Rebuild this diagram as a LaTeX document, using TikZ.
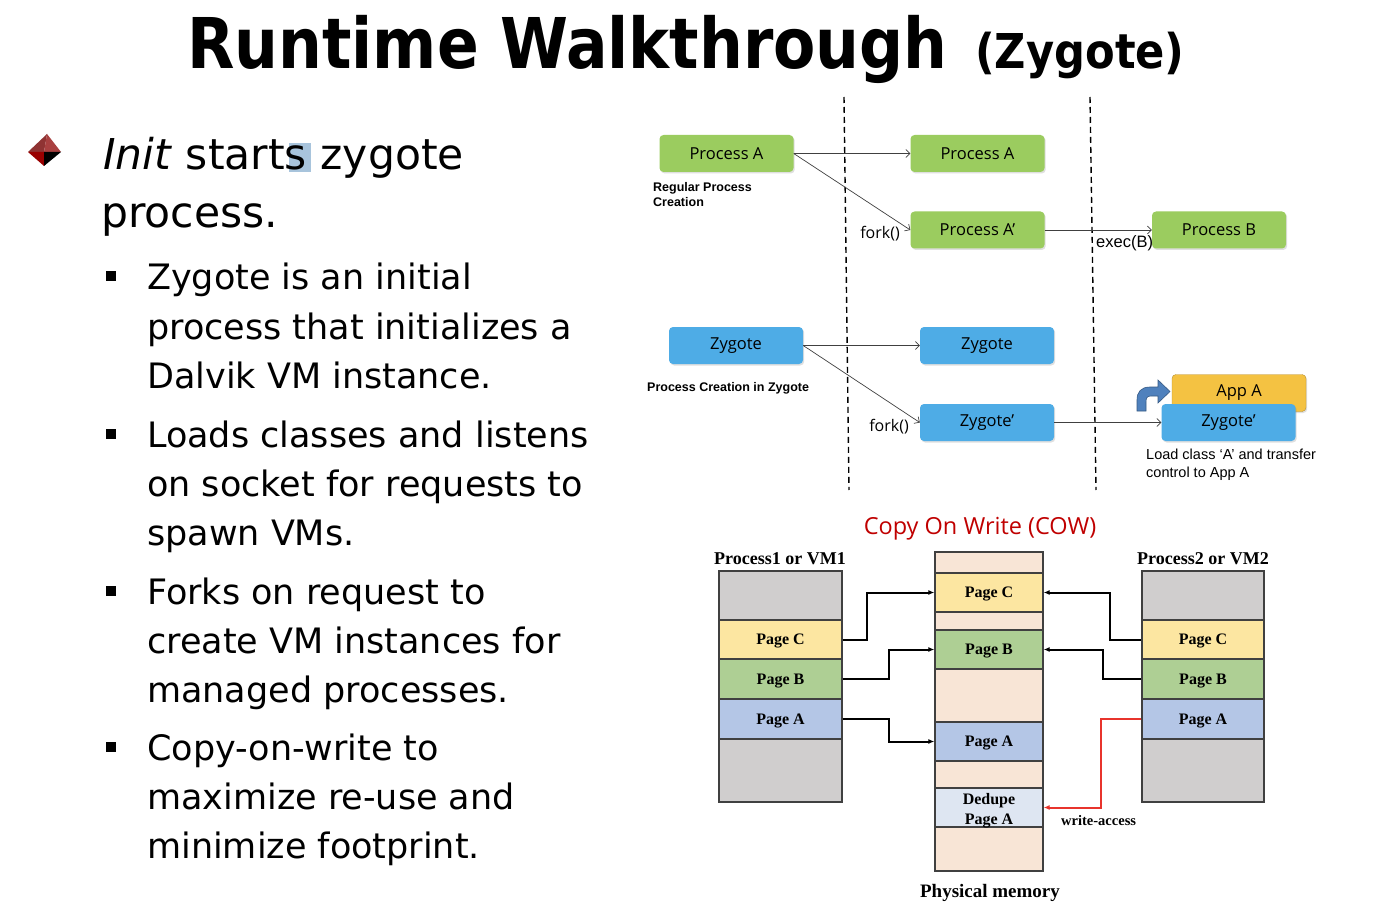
\documentclass[tikz,border=0pt]{standalone}
\usepackage{graphicx}
\usepackage{fontspec}
\setmainfont{DejaVu Sans}
\newfontfamily\boxfont{Open Sans}
\newfontfamily\arialfont{Liberation Sans}
\newfontfamily\timesfont{Liberation Serif}
\usetikzlibrary{arrows.meta,shadows}

\definecolor{procgreen}{RGB}{155,204,95}
\definecolor{zygblue}{RGB}{78,172,230}
\definecolor{appyellow}{RGB}{244,194,66}
\definecolor{pgray}{RGB}{208,206,206}
\definecolor{pyellow}{RGB}{252,230,161}
\definecolor{pgreen}{RGB}{174,207,148}
\definecolor{pblue}{RGB}{180,198,230}
\definecolor{ppeach}{RGB}{248,229,214}
\definecolor{pdedupe}{RGB}{222,230,242}
\definecolor{cowred}{RGB}{192,0,0}
\definecolor{writered}{RGB}{232,52,44}
\definecolor{bendblue}{RGB}{79,129,189}
\definecolor{segline}{RGB}{64,64,64}
\definecolor{markblue}{RGB}{168,196,220}

\tikzset{
  procbox/.style={rounded corners=4pt, minimum width=134pt, minimum height=37pt, inner sep=0pt,
    font=\boxfont\fontsize{16.5}{18}\selectfont,
    drop shadow={opacity=0.25, shadow xshift=1.2pt, shadow yshift=-1.5pt}},
  greenproc/.style={procbox, fill=procgreen},
  blueproc/.style={procbox, fill=zygblue},
  appproc/.style={procbox, fill=appyellow, draw=appyellow!75!black, line width=0.4pt},
  flow/.style={draw=black!75, line width=0.7pt, -{Straight Barb[length=4pt,width=8pt]}},
  divider/.style={line width=1.4pt, dash pattern=on 6pt off 4pt},
  seg/.style={draw=segline, line width=1.3pt, inner sep=0pt, text height=10.7pt, text depth=0pt,
    font=\timesfont\bfseries\fontsize{16}{18}\selectfont},
  pagelink/.style={draw=black, line width=2pt, -{Latex[length=6pt,width=5pt]}},
  bodytext/.style={anchor=base west, inner sep=0pt, font=\fontsize{35}{42}\selectfont},
  smalllabel/.style={anchor=base west, inner sep=0pt, font=\arialfont\bfseries\fontsize{12.5}{15}\selectfont},
}

\begin{document}
\begin{tikzpicture}[x=1pt,y=-1pt]
\fill[white] (0,0) rectangle (1374,904);
\useasboundingbox (0,0) rectangle (1374,904);

% title
\node[anchor=base west, inner sep=0pt, font=\bfseries\fontsize{70}{70}\selectfont] (title) at (187,69) {\scalebox{0.88}[1]{Runtime Walkthrough}};
\node[anchor=base west, inner sep=0pt, font=\bfseries\fontsize{48}{48}\selectfont] (subtitle) at (975,69) {\scalebox{0.9}[1]{(Zygote)}};

% main bullet
\fill[red!45!black!80] (28,152) -- (47,134) -- (44,152) -- cycle;
\fill[red!55!black!75] (47,134) -- (61,152) -- (44,152) -- cycle;
\fill[red!60!black] (28,152) -- (44,152) -- (44,166) -- cycle;
\fill[black] (44,152) -- (61,152) -- (44,166) -- cycle;
\fill[markblue] (289,143) rectangle (311,172);
\node[anchor=base west, inner sep=0pt, font=\fontsize{42.5}{50}\selectfont] (init) at (103,170) {\textit{Init} starts zygote};
\node[anchor=base west, inner sep=0pt, font=\fontsize{42.5}{50}\selectfont] (init2) at (101,228) {process.};

% sub bullets
\foreach \yy in {276.5,433.5,590.5,746.5}{
    \fill (105.5,\yy-5) rectangle ++(10,10);
}
\foreach \txt/\yy in {Zygote is an initial/290, process that initializes a/339, Dalvik VM instance./388,
    Loads classes and listens/447, on socket for requests to/496, spawn VMs./545,
    Forks on request to/604, create VM instances for/653, managed processes./702,
    Copy-on-write to/760, maximize re-use and/809, minimize footprint./858}{
    \node[bodytext] (line\yy) at (147,\yy) {\txt};
}

% process creation
\draw[divider] (844,97) -- (849,490);
\draw[divider] (1090,97) -- (1096,490);

\node[greenproc] (pa) at (726.5,153.5) {Process A};
\node[greenproc] (pa2) at (977.5,153.5) {Process A};
\node[greenproc] (pad) at (977.5,230) {Process A’};
\node[greenproc] (pb) at (1219,230) {Process B};
\node[smalllabel] (reg1) at (653,192) {Regular Process};
\node[smalllabel] (reg2) at (653,207) {Creation};

\draw[flow] (pa.east) -- (pa2.west);
\draw[flow] (pa.east) -- (pad.west);
\draw[flow] (pad.east) -- (pb.west);
\node[anchor=east, inner sep=0pt, font=\boxfont\fontsize{16}{18}\selectfont] (fork1) at (900,234) {fork()};
\node[anchor=west, inner sep=0pt, font=\arialfont\fontsize{16.5}{18}\selectfont] (exec) at (1096,243) {exec(B)};

\node[blueproc] (zy) at (736,345.5) {Zygote};
\node[blueproc] (zy2) at (987,345.5) {Zygote};
\node[blueproc] (zyd) at (987,422.5) {Zygote’};
\node[appproc] (appa) at (1239,393) {App A};
\node[blueproc] (zyd2) at (1228.5,422.5) {Zygote’};
\node[smalllabel] (zlabel) at (647,391) {Process Creation in Zygote};

\draw[flow] (zy.east) -- (zy2.west);
\draw[flow] (zy.east) -- (zyd.west);
\draw[flow] (zyd.east) -- (zyd2.west);
\node[anchor=east, inner sep=0pt, font=\boxfont\fontsize{16}{18}\selectfont] (fork2) at (909,427) {fork()};

\filldraw[fill=bendblue, draw=bendblue!70!black, line width=0.6pt]
    (1137,411) -- (1137,400) .. controls (1137,392) and (1141,387) .. (1150,387)
    -- (1158,387) -- (1158,380) -- (1170,391.5) -- (1158,403) -- (1158,396) -- (1151,396)
    .. controls (1147,396) and (1146,398) .. (1146,402) -- (1146,411) -- cycle;

\node[anchor=base west, inner sep=0pt, font=\arialfont\fontsize{14.5}{17}\selectfont] (load1) at (1146,459) {Load class ‘A’ and transfer};
\node[anchor=base west, inner sep=0pt, font=\arialfont\fontsize{14.5}{17}\selectfont] (load2) at (1146,477) {control to App A};

% copy on write
\node[anchor=base, inner sep=0pt, text=cowred, font=\boxfont\fontsize{23.5}{26}\selectfont] (cow) at (980,534) {Copy On Write (COW)};
\node[anchor=base, inner sep=0pt, font=\timesfont\bfseries\fontsize{18}{20}\selectfont] (vm1) at (780,564) {Process1 or VM1};
\node[anchor=base, inner sep=0pt, font=\timesfont\bfseries\fontsize{18}{20}\selectfont] (vm2) at (1203,564) {Process2 or VM2};

\node[seg, fill=pgray, minimum width=123pt, minimum height=49pt] (p1top) at (780.5,595.5) {};
\node[seg, fill=pyellow, minimum width=123pt, minimum height=39pt] (p1c) at (780.5,639.5) {Page C};
\node[seg, fill=pgreen, minimum width=123pt, minimum height=40pt] (p1b) at (780.5,679) {Page B};
\node[seg, fill=pblue, minimum width=123pt, minimum height=40pt] (p1a) at (780.5,719) {Page A};
\node[seg, fill=pgray, minimum width=123pt, minimum height=63pt] (p1bot) at (780.5,770.5) {};

\node[seg, fill=pgray, minimum width=122pt, minimum height=49pt] (p2top) at (1203,595.5) {};
\node[seg, fill=pyellow, minimum width=122pt, minimum height=39pt] (p2c) at (1203,639.5) {Page C};
\node[seg, fill=pgreen, minimum width=122pt, minimum height=40pt] (p2b) at (1203,679) {Page B};
\node[seg, fill=pblue, minimum width=122pt, minimum height=40pt] (p2a) at (1203,719) {Page A};
\node[seg, fill=pgray, minimum width=122pt, minimum height=63pt] (p2bot) at (1203,770.5) {};

\node[seg, fill=ppeach, minimum width=108pt, minimum height=319pt] (phys) at (989,711.5) {};
\node[seg, fill=pyellow, minimum width=108pt, minimum height=39pt] (pmc) at (989,592.5) {Page C};
\node[seg, fill=pgreen, minimum width=108pt, minimum height=39pt] (pmb) at (989,649.5) {Page B};
\node[seg, fill=pblue, minimum width=108pt, minimum height=39pt] (pma) at (989,741.5) {Page A};
\node[seg, fill=pdedupe, minimum width=108pt, minimum height=39pt, align=center, text height=33pt, text depth=0pt,
    font=\timesfont\bfseries\fontsize{16}{20}\selectfont] (dedupe) at (989,807.5) {Dedupe\\Page A};

\draw[pagelink] (p1c.east) -- ++(24,0) |- (pmc.west);
\draw[pagelink] (p1b.east) -- ++(46,0) |- (pmb.west);
\draw[pagelink] (p1a.east) -- ++(46,0) |- (pma.west);
\draw[pagelink] (p2c.west) -- ++(-31,0) |- (pmc.east);
\draw[pagelink] (p2b.west) -- ++(-38,0) |- (pmb.east);
\draw[pagelink, draw=writered] (p2a.west) -- ++(-40,0) |- (dedupe.east);

\node[anchor=base west, inner sep=0pt, font=\timesfont\bfseries\fontsize{14.5}{16}\selectfont] (wa) at (1061,825) {write-access};
\node[anchor=base, inner sep=0pt, font=\timesfont\bfseries\fontsize{19}{21}\selectfont] (physlabel) at (990,897) {Physical memory};
\end{tikzpicture}
\end{document}
